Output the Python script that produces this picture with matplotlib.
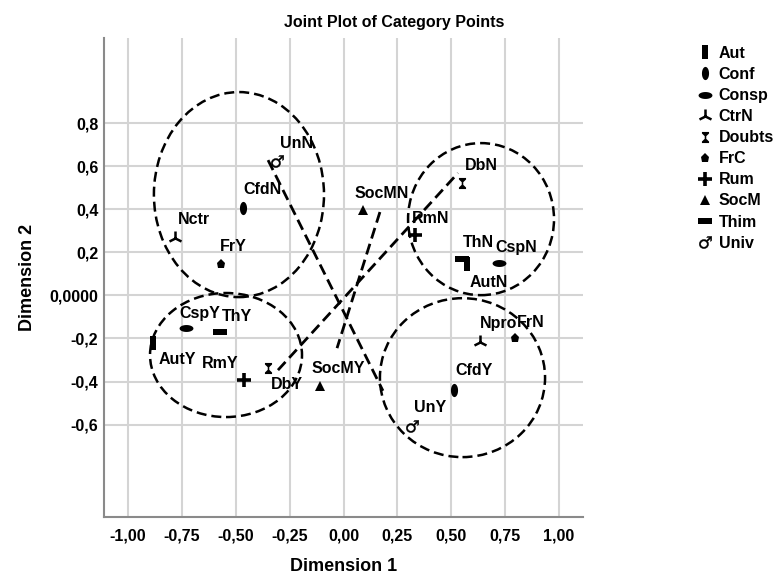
import numpy as np
import matplotlib
matplotlib.use("Agg")
import matplotlib.pyplot as plt
from matplotlib.path import Path
from matplotlib.patches import Ellipse
from matplotlib.lines import Line2D

plt.rcParams['font.family'] = ['Liberation Sans', 'DejaVu Sans']

# ---------------- data ----------------
variables = ['Aut', 'Conf', 'Consp', 'CtrN', 'Doubts', 'FrC', 'Rum', 'SocM', 'Thim', 'Univ']

point_labels = ['AutN', 'AutY', 'CfdN', 'CfdY', 'CspN', 'CspY', 'Nctr', 'Npro',
                'DbN', 'DbY', 'FrY', 'FrN', 'RmN', 'RmY', 'SocMN', 'SocMY',
                'ThN', 'ThY', 'UnN', 'UnY']
point_var = ['Aut', 'Aut', 'Conf', 'Conf', 'Consp', 'Consp', 'CtrN', 'CtrN',
             'Doubts', 'Doubts', 'FrC', 'FrC', 'Rum', 'Rum', 'SocM', 'SocM',
             'Thim', 'Thim', 'Univ', 'Univ']
dim1 = [0.573, -0.884, -0.466, 0.513, 0.722, -0.731, -0.783, 0.633,
        0.550, -0.350, -0.568, 0.796, 0.332, -0.462, 0.090, -0.109,
        0.550, -0.573, -0.309, 0.318]
dim2 = [0.145, -0.221, 0.405, -0.440, 0.150, -0.152, 0.266, -0.217,
        0.521, -0.338, 0.145, -0.198, 0.280, -0.394, 0.396, -0.421,
        0.169, -0.170, 0.623, -0.607]

# dashed connection lines (start x, start y, end x, end y)
line_x0 = [-0.350, 0.169, -0.304]
line_y0 = [0.628, 0.387, -0.347]
line_x1 = [0.183, -0.030, 0.531]
line_y1 = [-0.443, -0.245, 0.568]

# dashed cluster ellipses (center x, center y, width, height)
ell_cx = [-0.485, 0.638, -0.545, 0.552]
ell_cy = [0.468, 0.354, -0.277, -0.382]
ell_w = [0.789, 0.677, 0.705, 0.766]
ell_h = [0.952, 0.706, 0.576, 0.738]

xticks = [-1.0, -0.75, -0.5, -0.25, 0.0, 0.25, 0.5, 0.75, 1.0]
xticklabels = ['-1,00', '-0,75', '-0,50', '-0,25', '0,00', '0,25', '0,50', '0,75', '1,00']
yticks = [0.8, 0.6, 0.4, 0.2, 0.0, -0.2, -0.4, -0.6]
yticklabels = ['0,8', '0,6', '0,4', '0,2', '0,0000', '-0,2', '-0,4', '-0,6']

# label offsets in pixels (label center relative to point)
label_offsets = {
    'UnN': (20, 18), 'CfdN': (19, 19), 'Nctr': (19, 19), 'FrY': (12, 18),
    'SocMN': (19, 17), 'DbN': (19, 18), 'RmN': (16, 17), 'ThN': (16, 16),
    'CspN': (17, 16), 'AutN': (22, -18), 'Npro': (19, 19), 'FrN': (16, 16),
    'CfdY': (20, 20), 'UnY': (18, 19), 'SocMY': (18, 18), 'DbY': (19, -16),
    'RmY': (-24, 17), 'AutY': (24, -17), 'CspY': (14, 15), 'ThY': (17, 15),
}

# ---------------- markers ----------------
def rect_path(w, h):
    return Path([(-w / 2, -h / 2), (w / 2, -h / 2), (w / 2, h / 2), (-w / 2, h / 2), (-w / 2, -h / 2)],
                [Path.MOVETO, Path.LINETO, Path.LINETO, Path.LINETO, Path.CLOSEPOLY])

def ellipse_path(a, b):
    t = np.linspace(0, 2 * np.pi, 40)
    v = np.column_stack([a * np.cos(t), b * np.sin(t)])
    return Path(v, closed=True)

hourglass = Path([(-0.32, 0.5), (0.32, 0.5), (0.32, 0.36), (0.07, 0.12), (0.07, -0.12),
                  (0.32, -0.36), (0.32, -0.5), (-0.32, -0.5), (-0.32, -0.36), (-0.07, -0.12),
                  (-0.07, 0.12), (-0.32, 0.36), (-0.32, 0.5)], closed=True)

marker_style = {
    'Aut': dict(marker=rect_path(0.42, 1.0), markersize=10, mew=0),
    'Conf': dict(marker=ellipse_path(0.27, 0.5), markersize=9.5, mew=0),
    'Consp': dict(marker=ellipse_path(0.5, 0.25), markersize=10, mew=0),
    'CtrN': dict(marker='2', markersize=10, mew=1.8),
    'Doubts': dict(marker=hourglass, markersize=8, mew=0),
    'FrC': dict(marker='p', markersize=6.5, mew=0),
    'Rum': dict(marker='+', markersize=10, mew=2.6),
    'SocM': dict(marker='^', markersize=7.5, mew=0),
    'Thim': dict(marker=rect_path(1.0, 0.45), markersize=10, mew=0),
    'Univ': dict(marker='$\u2642$', markersize=9, mew=0.3),
}

# ---------------- figure ----------------
fig = plt.figure(figsize=(7.77, 5.82), dpi=100)
ax = fig.add_axes([104 / 777, 1 - 517 / 582, 479 / 777, 479 / 582])
ax.set_xlim(-1.111, 1.111)
ax.set_ylim(-1.029, 1.195)

ax.set_xticks(xticks)
ax.set_xticklabels(xticklabels, fontsize=11.5, fontweight='bold')
ax.set_yticks(yticks)
ax.set_yticklabels(yticklabels, fontsize=11.5, fontweight='bold')
ax.tick_params(axis='both', length=0)
ax.tick_params(axis='x', pad=8)
ax.tick_params(axis='y', pad=4)
ax.grid(True, color='#d4d4d4', linewidth=1.5)
ax.set_axisbelow(True)
for s in ['top', 'right']:
    ax.spines[s].set_visible(False)
for s in ['left', 'bottom']:
    ax.spines[s].set_color('#8a8a8a')
    ax.spines[s].set_linewidth(1.5)

dash = (0, (4, 2))
for cx, cy, w, h in zip(ell_cx, ell_cy, ell_w, ell_h):
    ax.add_patch(Ellipse((cx, cy), w, h, fill=False, edgecolor='black',
                         linestyle=dash, linewidth=1.8, zorder=3))
for x0, y0, x1, y1 in zip(line_x0, line_y0, line_x1, line_y1):
    ax.plot([x0, x1], [y0, y1], color='black', linestyle=dash, linewidth=2.0, zorder=3)

for lab, v, x, y in zip(point_labels, point_var, dim1, dim2):
    st = marker_style[v]
    ax.plot([x], [y], linestyle='none', color='black', markerfacecolor='black',
            markeredgecolor='black', zorder=4, **st)
    dx, dy = label_offsets[lab]
    ax.annotate(lab, (x, y), xytext=(dx, dy), textcoords='offset pixels',
                ha='center', va='center', fontsize=11.5, fontweight='bold', zorder=5)

ax.set_xlabel('Dimension 1', fontsize=13, fontweight='bold', labelpad=11)
ax.set_ylabel('Dimension 2', fontsize=13, fontweight='bold', labelpad=10)

fig.text(394 / 777, 1 - 22 / 582, 'Joint Plot of Category Points', ha='center', va='center',
         fontsize=11.5, fontweight='bold')

handles = []
for v in variables:
    st = marker_style[v]
    handles.append(Line2D([], [], linestyle='none', color='black', markerfacecolor='black',
                          markeredgecolor='black', **st))
fig.legend(handles, variables, loc='upper left', bbox_to_anchor=(697 / 777, 1 - 46 / 582),
           frameon=False, handlelength=0.95, handletextpad=0.4, borderpad=0,
           borderaxespad=0, labelspacing=0.38,
           prop={'size': 11.5, 'weight': 'bold'})

fig.savefig('out.png', dpi=100)
